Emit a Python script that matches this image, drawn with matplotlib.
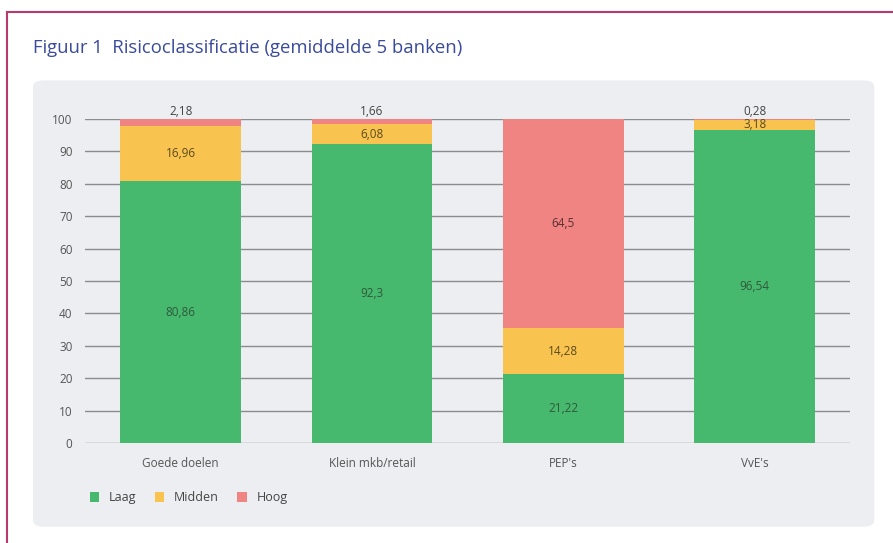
import matplotlib.pyplot as plt
import numpy as np
from matplotlib.lines import Line2D
from matplotlib.patches import FancyBboxPatch

plt.rcParams["font.family"] = ["Open Sans", "DejaVu Sans"]

categories = ["Goede doelen", "Klein mkb/retail", "PEP's", "VvE's"]
laag = [80.86, 92.3, 21.22, 96.54]
midden = [16.96, 6.08, 14.28, 3.18]
hoog = [2.18, 1.66, 64.5, 0.28]
series_names = ["Laag", "Midden", "Hoog"]
yticks = list(range(0, 101, 10))

GREEN = "#47b96e"
YELLOW = "#f9c34f"
RED = "#f08482"
colors = [GREEN, YELLOW, RED]
text_colors = ["#2f5a3c", "#5a4a20", "#5a3030"]

fig = plt.figure(figsize=(8.93, 5.43), dpi=100)
fig.patch.set_facecolor("white")

# gray rounded panel behind the chart
panel = FancyBboxPatch(
    (0.037, 0.03), 0.942, 0.822,
    boxstyle="round,pad=0,rounding_size=0.012",
    transform=fig.transFigure, facecolor="#eceef2", edgecolor="none", zorder=-2,
)
fig.patches.append(panel)

# frame lines top and left
fig.add_artist(Line2D([0.0078, 1.0], [0.978, 0.978], color="#b8396b", lw=1.5, transform=fig.transFigure))
fig.add_artist(Line2D([0.0078, 0.0078], [0.0, 0.978], color="#b8396b", lw=1.5, transform=fig.transFigure))

fig.text(0.037, 0.912, "Figuur 1  Risicoclassificatie (gemiddelde 5 banken)",
         color="#3a4a9c", fontsize=13.3, va="center", ha="left")

ax = fig.add_axes([0.0952, 0.184, 0.857, 0.597])
ax.set_facecolor("none")

x = np.arange(len(categories))
width = 0.63
bottoms = np.zeros(len(categories))
for name, vals, col, tcol in zip(series_names, [laag, midden, hoog], colors, text_colors):
    vals = np.array(vals)
    ax.bar(x, vals, width, bottom=bottoms, color=col, label=name, zorder=3)
    for xi, b, v in zip(x, bottoms, vals):
        lab = f"{v:g}".replace(".", ",")
        if v < 3:
            ax.text(xi, 100 + 0.4, lab, ha="center", va="bottom", fontsize=8.5, color="#444444")
        else:
            ax.text(xi, b + v / 2, lab, ha="center", va="center", fontsize=8.5, color=tcol, zorder=4)
    bottoms += vals

ax.set_xlim(-0.5, 3.5)
ax.set_ylim(0, 100)
ax.set_yticks(yticks)
ax.set_xticks(x)
ax.set_xticklabels(categories)
for yv in yticks:
    ax.axhline(yv, color="#8c8c8c", lw=1, zorder=1)
for s in ax.spines.values():
    s.set_visible(False)
ax.tick_params(axis="both", length=0, labelsize=8.5, colors="#555555")
ax.tick_params(axis="y", pad=9)
ax.tick_params(axis="x", pad=10)

leg = fig.legend(
    loc="center left", bbox_to_anchor=(0.088, 0.083), ncol=3, frameon=False,
    handlelength=0.75, handleheight=0.75, handletextpad=0.8, columnspacing=1.45, fontsize=9,
)
for t in leg.get_texts():
    t.set_color("#444444")

fig.savefig("out.png", dpi=100)
